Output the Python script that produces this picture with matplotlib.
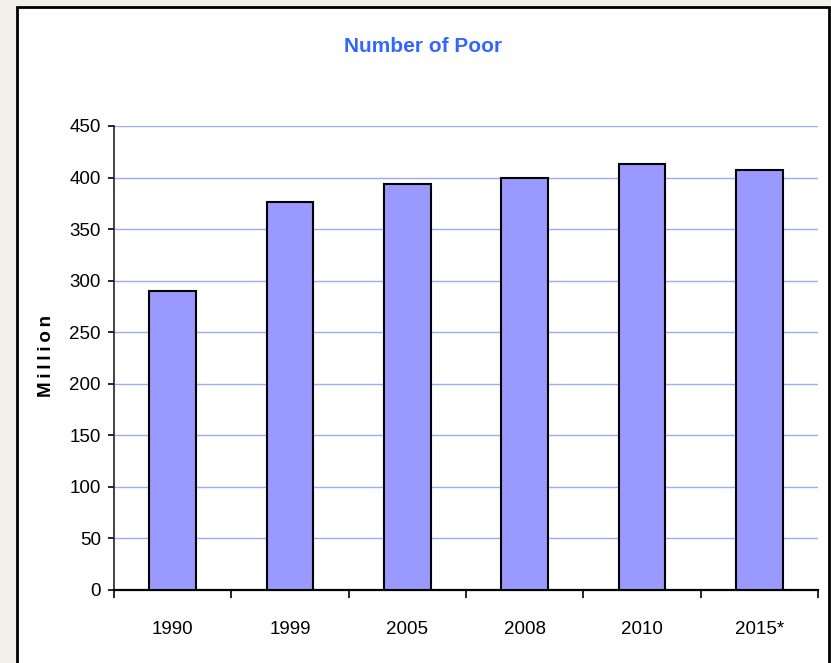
import matplotlib
matplotlib.use("Agg")
import matplotlib.pyplot as plt
from matplotlib.patches import Rectangle
import numpy as np

years = ["1990", "1999", "2005", "2008", "2010", "2015*"]
poor_million = [290, 376, 394, 400, 413, 407]
y_ticks = [0, 50, 100, 150, 200, 250, 300, 350, 400, 450]

sans = ["Liberation Sans", "DejaVu Sans"]

fig = plt.figure(figsize=(8.31, 6.63), dpi=100)
fig.patch.set_facecolor("#f2f0eb")

W, H = 831, 663
frame = Rectangle((17 / W, -0.05), (829 - 17) / W, 1.05 - 7 / H,
                  transform=fig.transFigure, facecolor="white",
                  edgecolor="black", linewidth=2.0, zorder=0)
fig.patches.append(frame)

ax = fig.add_axes([114 / W, 1 - 590 / H, (818 - 114) / W, (590 - 126) / H])
ax.set_zorder(2)
ax.set_facecolor("none")

x = np.arange(len(years))
ax.bar(x, poor_million, width=0.40, color="#9999ff", edgecolor="black",
       linewidth=1.5, zorder=3)

ax.set_xlim(-0.5, len(years) - 0.5)
ax.set_ylim(0, 450)
ax.set_yticks(y_ticks)
ax.set_yticklabels([str(v) for v in y_ticks], fontfamily=sans, fontsize=13.5)
ax.yaxis.grid(True, color="#99aaff", linewidth=1.0, zorder=0)
ax.set_axisbelow(True)

ax.set_xticks(x)
ax.set_xticklabels(years, fontfamily=sans, fontsize=13.5)
ax.set_xticks(np.arange(-0.5, len(years)), minor=True)
ax.tick_params(axis="x", which="major", length=0, pad=22)
ax.tick_params(axis="x", which="minor", length=6, width=1.2, direction="out", color="black")
ax.tick_params(axis="y", length=4.5, width=1.2, direction="out", color="black", pad=5)

for s in ["top", "right"]:
    ax.spines[s].set_visible(False)
ax.spines["left"].set_color("#222222")
ax.spines["left"].set_linewidth(1.2)
ax.spines["bottom"].set_color("black")
ax.spines["bottom"].set_linewidth(1.6)

ax.set_ylabel("M\u2009i\u2009l\u2009l\u2009i\u2009o\u2009n", fontfamily=sans,
              fontsize=13.5, fontweight="bold")
ax.yaxis.set_label_coords((55 - 114) / (818 - 114), 0.504)

fig.text(423 / W, 1 - 46 / H, "Number of Poor", fontfamily=sans, fontsize=15,
         fontweight="bold", color="#3366ff", ha="center", va="center")

fig.savefig("out.png", dpi=100, facecolor=fig.get_facecolor())
